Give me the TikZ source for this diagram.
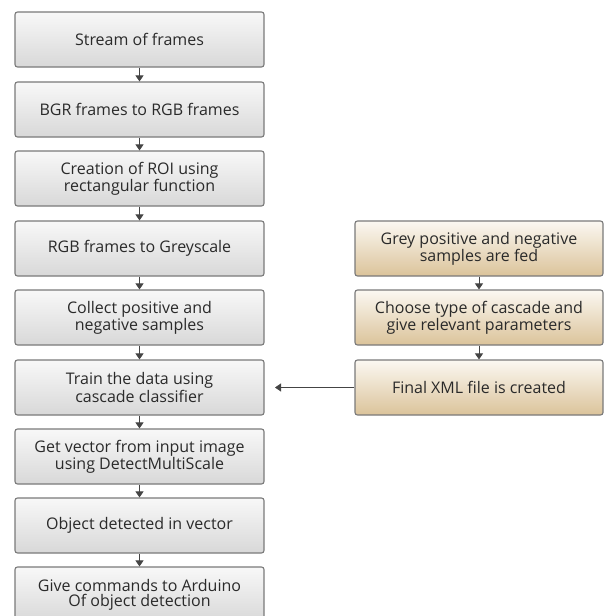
\documentclass[tikz,border=0pt]{standalone}
\usepackage{fontspec}
\setmainfont{Open Sans}
\usetikzlibrary{arrows.meta}
\definecolor{bordc}{HTML}{7A7A7A}
\definecolor{txtc}{HTML}{2A2A2A}
\definecolor{arrc}{HTML}{444444}
\definecolor{gtop}{HTML}{F8F8F8}
\definecolor{gbot}{HTML}{D8D8D8}
\definecolor{ttop}{HTML}{FBF8F2}
\definecolor{tbot}{HTML}{DBC39A}
\tikzset{
  box/.style={draw=bordc, line width=1.1pt, rounded corners=2.5pt,
    minimum width=249pt, minimum height=55pt, inner sep=0pt,
    align=center, text=txtc, font=\fontsize{16}{14.8}\selectfont,
    top color=gtop, bottom color=gbot},
  tanbox/.style={box, minimum width=248pt, top color=ttop, bottom color=tbot},
  conn/.style={draw=arrc, line width=0.8pt, -{Triangle[width=8pt,length=6pt]}},
}
\begin{document}
\begin{tikzpicture}[x=1pt,y=-1pt]
\path[use as bounding box] (0,0) rectangle (604,616);
\clip (0,0) rectangle (604,616);
\node[box] (b1) at (139.5,39.5) {Stream of frames};
\node[box] (b2) at (139.5,109.5) {BGR frames to RGB frames};
\node[box] (b3) at (139.5,178.5) {Creation of ROI using\\rectangular function};
\node[box] (b4) at (139.5,248.5) {RGB frames to Greyscale};
\node[box] (b5) at (139.5,317.5) {Collect positive and\\negative samples};
\node[box] (b6) at (139.5,387.5) {Train the data using\\cascade classifier};
\node[box] (b7) at (139.5,456.5) {Get vector from input image\\using DetectMultiScale};
\node[box] (b8) at (139.5,525.5) {Object detected in vector};
\node[box] (b9) at (139.5,594.5) {Give commands to Arduino\\Of object detection};
\node[tanbox] (r1) at (479,248.5) {Grey positive and negative\\samples are fed};
\node[tanbox] (r2) at (479,317.5) {Choose type of cascade and\\give relevant parameters};
\node[tanbox] (r3) at (479,387.5) {Final XML file is created};
\foreach \a/\b in {b1/b2,b2/b3,b3/b4,b4/b5,b5/b6,b6/b7,b7/b8,b8/b9,r1/r2,r2/r3}
  \draw[conn] (\a.south) -- (\b.north);
\coordinate (tip) at (275,387.5);
\draw[conn] (r3.west) -- (tip);
\end{tikzpicture}
\end{document}
